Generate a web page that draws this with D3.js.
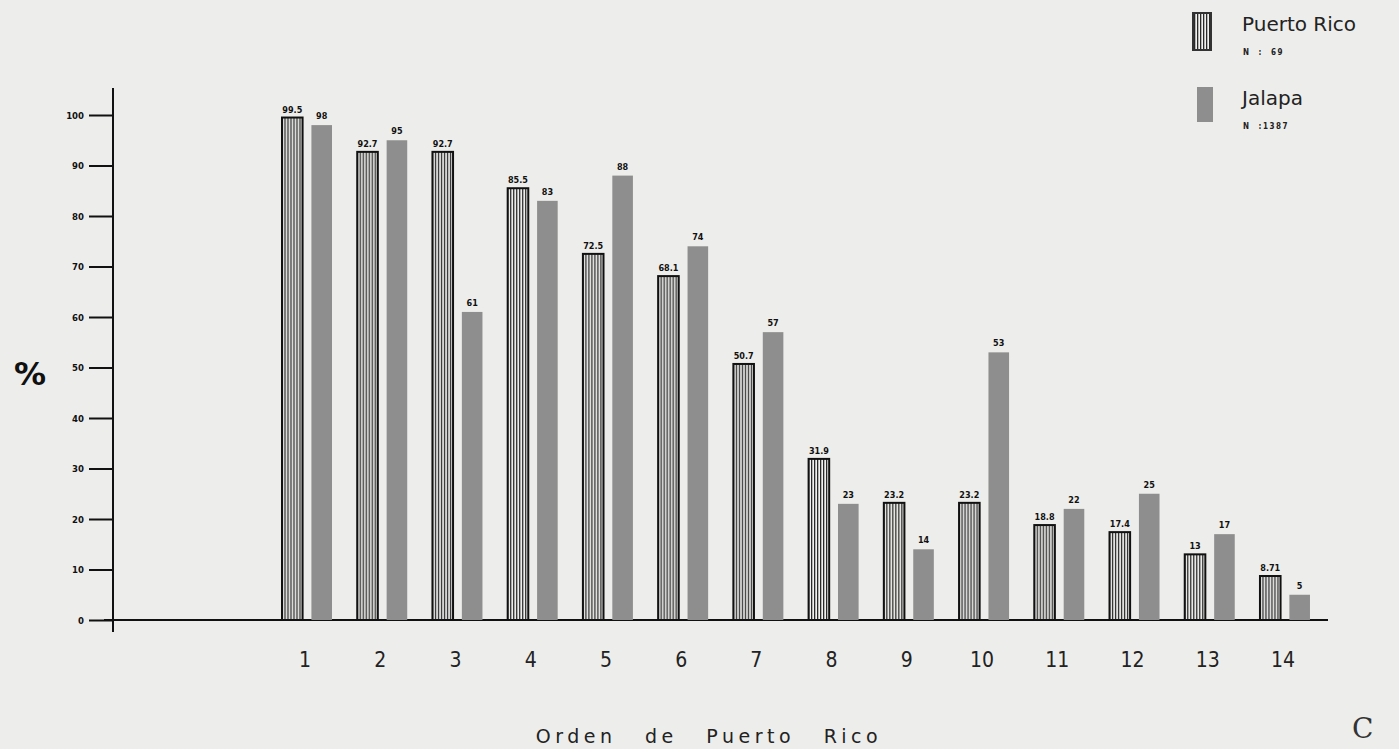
<!DOCTYPE html>
<html>
<head>
<meta charset="utf-8">
<script src="https://d3js.org/d3.v7.min.js"></script>
<style>
  body { margin: 0; background: #ededeb; }
  svg { display: block; }
</style>
</head>
<body>
<div id="chart"></div>
<script>
const orden = ["1","2","3","4","5","6","7","8","9","10","11","12","13","14"];
const puertoRico = [99.5, 92.7, 92.7, 85.5, 72.5, 68.1, 50.7, 31.9, 23.2, 23.2, 18.8, 17.4, 13, 8.71];
const jalapa = [98, 95, 61, 83, 88, 74, 57, 23, 14, 53, 22, 25, 17, 5];
const yTicks = [0, 10, 20, 30, 40, 50, 60, 70, 80, 90, 100];
const keys = ["pr", "ja"];

const svgWidth = 1399, svgHeight = 749;

const svg = d3.select("#chart").append("svg")
  .attr("width", svgWidth)
  .attr("height", svgHeight)
  .style("font-family", "'DejaVu Sans', sans-serif");

// striped pattern for Puerto Rico bars
const defs = svg.append("defs");
const pat = defs.append("pattern")
  .attr("id", "stripes")
  .attr("patternUnits", "userSpaceOnUse")
  .attr("width", 3).attr("height", 10);
pat.append("rect").attr("width", 3).attr("height", 10).attr("fill", "#f2f2f0");
pat.append("rect").attr("width", 1.3).attr("height", 10).attr("fill", "#2a2a2a");

const x = d3.scaleBand().domain(orden).range([269.4, 1322.6]).padding(0);
const xSub = d3.scaleBand().domain(keys).range([12.6, 62.6]).paddingInner(0.3).paddingOuter(0);
const y = d3.scaleLinear().domain([0, 100]).range([620, 115]);

const rows = orden.map((o, i) => ({ o, pr: puertoRico[i], ja: jalapa[i] }));

// axes lines
svg.append("line")
  .attr("x1", 113).attr("x2", 113).attr("y1", 88).attr("y2", 632)
  .attr("stroke", "#111").attr("stroke-width", 2);
svg.append("line")
  .attr("x1", 104).attr("x2", 1328).attr("y1", y(0)).attr("y2", y(0))
  .attr("stroke", "#111").attr("stroke-width", 2);

const yAxis = svg.append("g")
  .attr("transform", "translate(113,0)")
  .call(d3.axisLeft(y).tickValues(yTicks).tickSize(24).tickPadding(5));
yAxis.select(".domain").remove();
yAxis.selectAll("line").attr("stroke", "#111").attr("stroke-width", 2);
yAxis.selectAll("text")
  .style("font-family", "'DejaVu Sans Condensed', 'DejaVu Sans', sans-serif")
  .style("font-weight", "bold")
  .style("font-size", "9.5px")
  .attr("fill", "#111");

// bars
const groups = svg.selectAll("g.grp")
  .data(rows)
  .enter().append("g")
  .attr("class", "grp")
  .attr("transform", d => `translate(${x(d.o)},0)`);

groups.append("rect")
  .attr("x", xSub("pr"))
  .attr("y", d => y(d.pr))
  .attr("width", xSub.bandwidth())
  .attr("height", d => y(0) - y(d.pr))
  .attr("fill", "url(#stripes)")
  .attr("stroke", "#111")
  .attr("stroke-width", 2);

groups.append("rect")
  .attr("x", xSub("ja"))
  .attr("y", d => y(d.ja))
  .attr("width", xSub.bandwidth())
  .attr("height", d => y(0) - y(d.ja))
  .attr("fill", "#8e8e8e");

// value labels
const valStyle = sel => sel
  .attr("text-anchor", "middle")
  .style("font-family", "'DejaVu Sans Condensed', 'DejaVu Sans', sans-serif")
  .style("font-weight", "bold")
  .style("font-size", "9px")
  .attr("fill", "#111");

groups.append("text")
  .attr("x", xSub("pr") + xSub.bandwidth() / 2)
  .attr("y", d => y(d.pr) - 5)
  .text(d => d.pr)
  .call(valStyle);

groups.append("text")
  .attr("x", xSub("ja") + xSub.bandwidth() / 2)
  .attr("y", d => y(d.ja) - 6)
  .text(d => d.ja)
  .call(valStyle);

// category labels
svg.selectAll("text.cat")
  .data(orden)
  .enter().append("text")
  .attr("class", "cat")
  .attr("x", d => x(d) + x.bandwidth() / 2 - 2)
  .attr("y", 667)
  .attr("text-anchor", "middle")
  .style("font-family", "'DejaVu Sans Condensed', 'DejaVu Sans', sans-serif")
  .style("font-size", "21px")
  .attr("fill", "#222")
  .text(d => d);

// axis titles
svg.append("text")
  .attr("x", 30).attr("y", 385)
  .attr("text-anchor", "middle")
  .style("font-size", "32px")
  .style("font-weight", "bold")
  .attr("fill", "#111")
  .text("%");

svg.append("text")
  .attr("x", 709).attr("y", 743)
  .attr("text-anchor", "middle")
  .style("font-size", "19px")
  .style("letter-spacing", "4.5px")
  .style("word-spacing", "18px")
  .attr("fill", "#222")
  .text("Orden de Puerto Rico");

svg.append("text")
  .attr("x", 1352).attr("y", 738)
  .style("font-family", "'DejaVu Serif', serif")
  .style("font-size", "28px")
  .attr("fill", "#333")
  .text("C");

// legend
const legend = svg.append("g");
const legendItems = [
  { key: "pr", label: "Puerto Rico", n: "N  :  69", y: 13, h: 37 },
  { key: "ja", label: "Jalapa", n: "N  :1387", y: 87, h: 35 }
];
legendItems.forEach(item => {
  legend.append("rect")
    .attr("x", item.key === "pr" ? 1193 : 1197)
    .attr("y", item.y)
    .attr("width", item.key === "pr" ? 18 : 16)
    .attr("height", item.h)
    .attr("fill", item.key === "pr" ? "url(#stripes)" : "#8e8e8e")
    .attr("stroke", item.key === "pr" ? "#333" : "none")
    .attr("stroke-width", 2);
  legend.append("text")
    .attr("x", 1242).attr("y", item.y + 18)
    .style("font-size", "20px")
    .attr("fill", "#222")
    .text(item.label);
  legend.append("text")
    .attr("x", 1243).attr("y", item.y + 42)
    .style("font-family", "'DejaVu Sans Condensed', 'DejaVu Sans', sans-serif")
    .style("font-weight", "bold")
    .style("font-size", "8px")
    .style("letter-spacing", "1.5px")
    .style("white-space", "pre")
    .attr("fill", "#222")
    .text(item.n);
});
</script>
</body>
</html>
